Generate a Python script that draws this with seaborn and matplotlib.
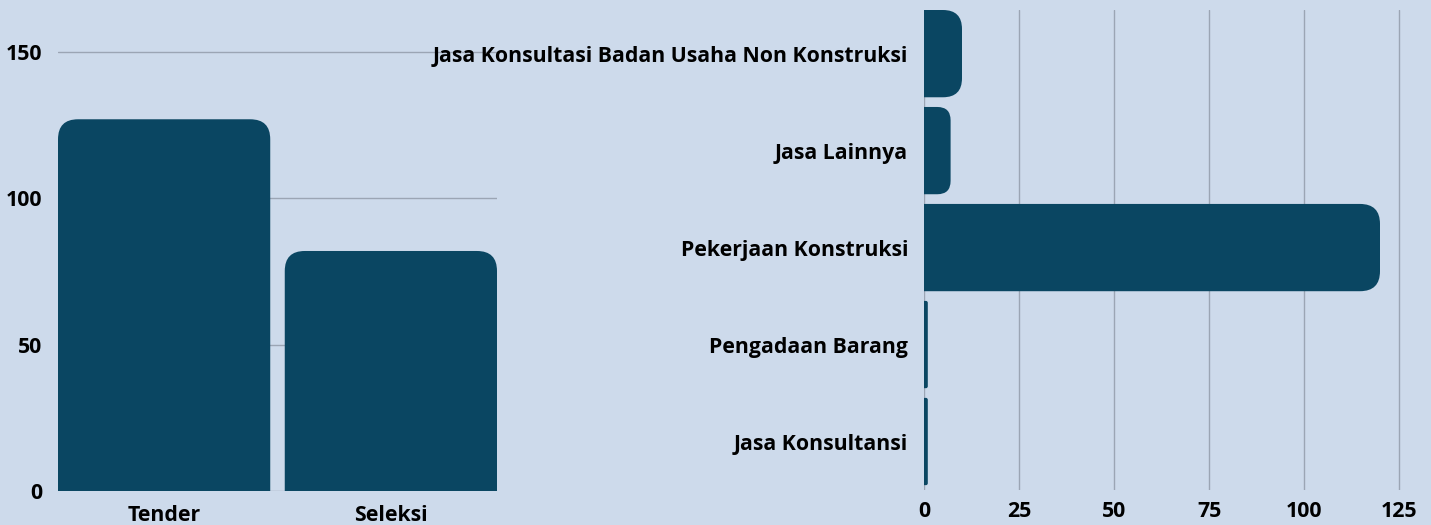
import matplotlib
matplotlib.use("Agg")
import matplotlib.pyplot as plt
import seaborn as sns
from matplotlib.patches import FancyBboxPatch

# data
metode = ["Tender", "Seleksi"]
metode_jumlah = [127, 82]

jenis = ["Jasa Konsultasi Badan Usaha Non Konstruksi", "Jasa Lainnya",
         "Pekerjaan Konstruksi", "Pengadaan Barang", "Jasa Konsultansi"]
jenis_jumlah = [10, 7, 120, 1, 1]

bg = "#cddaeb"
bar_col = "#0a4662"
grid_col = "#9ba5b4"

sns.set_theme(style="white", rc={"axes.facecolor": bg, "figure.facecolor": bg})
plt.rcParams["font.family"] = ["Open Sans", "DejaVu Sans"]

W, H = 1431, 525
fig = plt.figure(figsize=(W / 100, H / 100), dpi=100)


def px_axes(x0, y0, x1, y1):
    # pixel box (top-left origin) -> figure axes
    return fig.add_axes([x0 / W, 1 - y1 / H, (x1 - x0) / W, (y1 - y0) / H])


ax_l = px_axes(58, 8, 497, 491)
ax_r = px_axes(924, 10, 1418, 490)

wl = 0.936
sns.barplot(x=metode, y=metode_jumlah, color=bar_col, width=wl, ax=ax_l)
ax_l.set_xlim(-wl / 2, 1 + wl / 2)
ax_l.set_ylim(0, 483 / 2.927)
ax_l.set_yticks([0, 50, 100, 150])

sns.barplot(x=jenis_jumlah, y=jenis, color=bar_col, width=0.9, orient="h", ax=ax_r)
ax_r.set_xlim(0, 130)
ax_r.set_ylim(4.5, -0.45)
ax_r.set_xticks([0, 25, 50, 75, 100, 125])

for ax, gaxis in [(ax_l, "y"), (ax_r, "x")]:
    ax.grid(axis=gaxis, color=grid_col, linewidth=1)
    ax.set_axisbelow(True)
    for s in ax.spines.values():
        s.set_visible(False)
    ax.set_xlabel("")
    ax.set_ylabel("")
    ax.tick_params(length=0, labelsize=15.3)
    for lab in ax.get_xticklabels() + ax.get_yticklabels():
        lab.set_fontweight("bold")
        lab.set_color("black")

ax_l.tick_params(axis="y", pad=11.5)
ax_l.tick_params(axis="x", pad=10)
ax_r.tick_params(axis="y", pad=11.5)
ax_r.tick_params(axis="x", pad=8)


def scale(ax):
    t = ax.transData
    ox, oy = t.transform((0, 0))
    ux, _ = t.transform((1, 0))
    _, uy = t.transform((0, 1))
    return abs(ux - ox), abs(uy - oy)


def round_bars(ax, vertical, r_px=20):
    sx, sy = scale(ax)
    bars = list(ax.patches)
    for p in bars:
        x, y, w, h = p.get_x(), p.get_y(), p.get_width(), p.get_height()
        p.remove()
        if vertical:
            r = min(r_px, h * sy * 0.5)
            ry = r / sy
            box = (x, y - ry, w, h + ry)
        else:
            r = min(r_px, w * sx * 0.5)
            rx = r / sx
            box = (x - rx, y, w + rx, h)
        fb = FancyBboxPatch(box[:2], box[2], box[3],
                            boxstyle=f"round,pad=0,rounding_size={r / sx}",
                            mutation_aspect=sx / sy,
                            facecolor=bar_col, edgecolor="none", zorder=2)
        ax.add_patch(fb)


round_bars(ax_l, True)
round_bars(ax_r, False)

fig.savefig("out.png", dpi=100, facecolor=bg)
